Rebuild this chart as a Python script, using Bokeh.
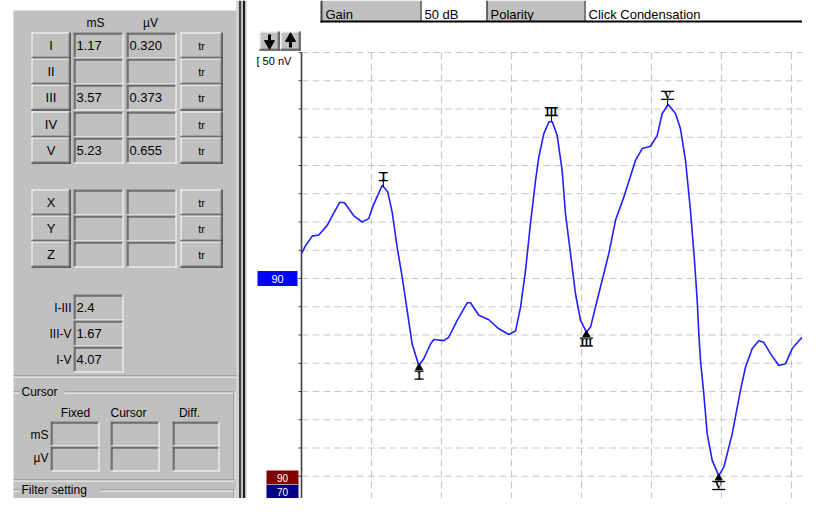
import numpy as np
from bokeh.plotting import figure
from bokeh.models import Range1d
from bokeh.core.properties import value
from bokeh.embed import file_html
from bokeh.resources import INLINE

# ---------------- data ----------------
time_ms = [0.000, 0.057, 0.153, 0.247, 0.367, 0.439, 0.547, 0.614, 0.747, 0.867,
           0.961, 1.024, 1.153, 1.233, 1.296, 1.367, 1.439, 1.510, 1.581, 1.676,
           1.747, 1.843, 1.890, 2.033, 2.104, 2.224, 2.367, 2.414, 2.533, 2.676,
           2.819, 2.961, 3.057, 3.129, 3.200, 3.271, 3.343, 3.390, 3.461, 3.533,
           3.581, 3.653, 3.724, 3.771, 3.843, 3.914, 3.986, 4.071, 4.129, 4.247,
           4.390, 4.486, 4.604, 4.771, 4.867, 4.986, 5.081, 5.153, 5.239, 5.343,
           5.414, 5.486, 5.557, 5.614, 5.653, 5.676, 5.700, 5.747, 5.796, 5.867,
           5.961, 6.033, 6.153, 6.271, 6.343, 6.439, 6.533, 6.604, 6.700, 6.819,
           6.914, 7.010, 7.129, 7.224, 7.357]
amp_uv = [0.044, 0.058, 0.075, 0.077, 0.094, 0.111, 0.135, 0.134, 0.111, 0.100,
          0.106, 0.129, 0.165, 0.153, 0.117, 0.055, 0.002, -0.057, -0.116, -0.154,
          -0.142, -0.116, -0.108, -0.110, -0.104, -0.074, -0.043, -0.043, -0.065, -0.073,
          -0.089, -0.099, -0.093, -0.051, 0.014, 0.097, 0.173, 0.215, 0.256, 0.277,
          0.278, 0.253, 0.191, 0.115, 0.044, -0.027, -0.074, -0.095, -0.086, -0.027,
          0.044, 0.103, 0.144, 0.209, 0.230, 0.234, 0.253, 0.292, 0.308, 0.292,
          0.265, 0.209, 0.120, 0.032, -0.039, -0.098, -0.145, -0.204, -0.275, -0.322,
          -0.349, -0.334, -0.275, -0.198, -0.157, -0.124, -0.110, -0.113, -0.133, -0.154,
          -0.151, -0.124, -0.107, -0.098, -0.074]

peak_names = ["I", "II", "III", "IV", "V"]
peak_lat_ms = ["1.17", "", "3.57", "", "5.23"]
peak_amp_uv = ["0.320", "", "0.373", "", "0.655"]
trough_lat_ms = [1.68, 4.07, 5.96]
extra_names = ["X", "Y", "Z"]
interpeak_names = ["I-III", "III-V", "I-V"]
interpeak_ms = ["2.4", "1.67", "4.07"]
cursor_cols = ["Fixed", "Cursor", "Diff."]
cursor_rows = ["mS", "µV"]
header_labels = ["Gain", "50 dB", "Polarity", "Click Condensation"]
trace_level = "90"
level_legend = ["90", "70"]
grid_ms = [1, 2, 3, 4, 5, 6, 7]
grid_uv = [round(-0.40 + 0.05 * k, 2) for k in range(17)]
scale_label = "[ 50 nV"

# ---------------- layout constants ----------------
BG = "#c0c0c0"
DARK = "#404040"
SHADOW = "#808080"
W, H = 802, 498
X0_PX, Y0_PX = 301, 278          # pixel position of t = 0 ms and of 0 µV
PX_PER_MS, PX_PER_UV = 70.0, 565.0
SANS = "Liberation Sans"

p = figure(width=W, height=H, output_backend="svg", toolbar_location=None,
           x_range=Range1d(-X0_PX / PX_PER_MS, (W - X0_PX) / PX_PER_MS),
           y_range=Range1d((Y0_PX - H) / PX_PER_UV, Y0_PX / PX_PER_UV),
           x_axis_location=None, y_axis_location=None, min_border=0,
           outline_line_color=None, background_fill_color="white",
           border_fill_color="white")
p.extra_x_ranges = {"px": Range1d(0, W)}
p.extra_y_ranges = {"py": Range1d(H, 0)}
p.grid.grid_line_color = None

Q = {"l": [], "r": [], "t": [], "b": [], "c": []}
S = {"x0": [], "y0": [], "x1": [], "y1": [], "c": [], "w": []}
T = {}


def quad(x0, y0, x1, y1, c):
    Q["l"].append(x0); Q["r"].append(x1); Q["t"].append(y0); Q["b"].append(y1); Q["c"].append(c)


def seg(x0, y0, x1, y1, c, w=1.0):
    S["x0"].append(x0); S["y0"].append(y0); S["x1"].append(x1); S["y1"].append(y1)
    S["c"].append(c); S["w"].append(w)


def txt(x, y, s, size="12px", align="left", color="black", font=SANS,
        baseline="middle", style="normal"):
    key = (size, align, color, font, baseline, style)
    d = T.setdefault(key, {"x": [], "y": [], "text": []})
    d["x"].append(x); d["y"].append(y); d["text"].append(s)


def raised(x0, y0, x1, y1):
    quad(x0, y0, x1, y1, BG)
    seg(x0, y0 + 0.5, x1 - 1, y0 + 0.5, "white")
    seg(x0 + 0.5, y0, x0 + 0.5, y1 - 1, "white")
    seg(x0, y1 - 0.5, x1, y1 - 0.5, "black")
    seg(x1 - 0.5, y0, x1 - 0.5, y1, "black")
    seg(x0 + 1, y1 - 1.5, x1 - 1, y1 - 1.5, SHADOW)
    seg(x1 - 1.5, y0 + 1, x1 - 1.5, y1 - 1, SHADOW)


def sunken(x0, y0, x1, y1):
    quad(x0, y0, x1, y1, BG)
    seg(x0, y0 + 0.5, x1, y0 + 0.5, SHADOW)
    seg(x0 + 0.5, y0, x0 + 0.5, y1, SHADOW)
    seg(x0 + 1, y0 + 1.5, x1 - 1, y0 + 1.5, DARK)
    seg(x0 + 1.5, y0 + 1, x0 + 1.5, y1 - 1, DARK)
    seg(x0, y1 - 0.5, x1, y1 - 0.5, "white")
    seg(x1 - 0.5, y0, x1 - 0.5, y1, "white")


def etched_h(x0, x1, y):
    seg(x0, y + 0.5, x1, y + 0.5, SHADOW)
    seg(x0, y + 1.5, x1, y + 1.5, "white")


def etched_v(x, y0, y1):
    seg(x + 0.5, y0, x + 0.5, y1, SHADOW)
    seg(x + 1.5, y0, x + 1.5, y1, "white")


# ---------------- left panel ----------------
quad(13, 10, 236, 520, BG)
quad(236, 0, 246, 520, BG)
seg(237.5, 0, 237.5, 520, "#e4e4e4")
seg(239.5, 0, 239.5, 520, DARK, 2)
seg(243.5, 0, 243.5, 520, "#202020", 2)

txt(95, 22, "mS", "12px", "center")
txt(150, 22, "µV", "12px", "center")

for i, (name, lat, amp) in enumerate(zip(peak_names, peak_lat_ms, peak_amp_uv)):
    y0 = round(32 + 26.25 * i)
    y1 = y0 + 26
    raised(31, y0, 70, y1)
    sunken(73, y0, 123, y1)
    sunken(126, y0, 176, y1)
    raised(180, y0, 222, y1)
    txt(50.5, y0 + 13, name, "13px", "center")
    txt(201, y0 + 13, "tr", "11px", "center")
    if lat:
        txt(76, y0 + 13, lat, "13px")
    if amp:
        txt(129, y0 + 13, amp, "13px")

for i, name in enumerate(extra_names):
    y0 = 189 + 26 * i
    y1 = y0 + 26
    raised(31, y0, 70, y1)
    sunken(73, y0, 123, y1)
    sunken(126, y0, 176, y1)
    raised(180, y0, 222, y1)
    txt(50.5, y0 + 13, name, "13px", "center")
    txt(201, y0 + 13, "tr", "11px", "center")

for i, (name, val) in enumerate(zip(interpeak_names, interpeak_ms)):
    y0 = 294 + 26 * i
    sunken(73, y0, 123, y0 + 26)
    txt(71, y0 + 13, name, "12px", "right")
    txt(76, y0 + 13, val, "13px")

etched_h(13, 236, 375)

# Cursor group
etched_h(13, 19, 391)
etched_h(64, 234, 391)
etched_v(233, 391, 479)
etched_h(13, 234, 479)
txt(21, 391.5, "Cursor", "12px")
col_x = [(50, 99), (110, 159), (172, 219)]
col_cx = [75, 128, 189]
for (x0, x1), cx, name in zip(col_x, col_cx, cursor_cols):
    txt(cx, 412, name, "12px", "center")
    sunken(x0, 421, x1, 446)
    sunken(x0, 446, x1, 471)
for j, name in enumerate(cursor_rows):
    txt(48, 434 + 23 * j, name, "12px", "right")

# Filter setting group
etched_h(13, 19, 489)
etched_h(100, 234, 489)
etched_v(233, 489, 520)
txt(21, 489.5, "Filter setting", "12px")

# ---------------- right side: header, buttons, labels ----------------
cells = [(321, 420, BG), (420, 486, "white"), (486, 584, BG), (584, 830, "white")]
for (x0, x1, c), lab in zip(cells, header_labels):
    quad(x0, 0, x1, 21, c)
    txt(x0 + 4, 14, lab, "13px", baseline="alphabetic")
for (x0, x1, c) in cells[1:]:
    seg(x0 + 0.5, 0, x0 + 0.5, 21, "black")
seg(321, 0, 321, 22, DARK, 2)
seg(320, 21, 830, 21, "black", 2)

raised(259, 31, 279, 50)
raised(280, 31, 300, 50)
seg(269, 34, 269, 41, "black", 3)
seg(290, 41, 290, 47, "black", 3)
txt(256, 60, scale_label, "11px")

quad(266, 470, 298, 484, "#800000")
quad(266, 484, 298, 498, "#000080")
seg(266, 484, 298, 484, "#a0a0a0", 1)
txt(282, 477.5, level_legend[0], "10px", "center", "white")
txt(282, 491.5, level_legend[1], "10px", "center", "white")

# draw UI pieces (pixel ranges)
p.quad(left=Q["l"], right=Q["r"], top=Q["t"], bottom=Q["b"], fill_color=Q["c"],
       line_color=None, x_range_name="px", y_range_name="py")
p.segment(x0=S["x0"], y0=S["y0"], x1=S["x1"], y1=S["y1"], line_color=S["c"],
          line_width=S["w"], x_range_name="px", y_range_name="py")
p.scatter(x=[269], y=[43], marker="inverted_triangle", size=10, fill_color="black",
          line_color="black", x_range_name="px", y_range_name="py")
p.scatter(x=[290], y=[38], marker="triangle", size=10, fill_color="black",
          line_color="black", x_range_name="px", y_range_name="py")
for (size, align, color, font, baseline, style), d in T.items():
    p.text(x=d["x"], y=d["y"], text=d["text"], text_font=value(font),
           text_font_size=size, text_align=align, text_color=color,
           text_baseline=baseline, text_font_style=style,
           x_range_name="px", y_range_name="py")

# ---------------- waveform area (data ranges) ----------------
y_top = max(grid_uv)
y_bot = p.y_range.start
x_end = p.x_range.end
grid_c = "#c8c8c8"
p.segment(x0=[0] * len(grid_uv), x1=[x_end] * len(grid_uv), y0=grid_uv, y1=grid_uv,
          line_color=grid_c, line_dash="7 4", line_width=1.2)
p.segment(x0=grid_ms, x1=grid_ms, y0=[y_top] * len(grid_ms), y1=[y_bot] * len(grid_ms),
          line_color=grid_c, line_dash="7 4", line_width=1.2)
p.segment(x0=[0], x1=[0], y0=[y_top], y1=[y_bot], line_color=DARK, line_width=1.6)
p.segment(x0=[298] * len(grid_uv), x1=[301] * len(grid_uv), y0=grid_uv, y1=grid_uv,
          line_color=DARK, line_width=1, x_range_name="px")

# level marker at the trace baseline
p.rect(x=[277], y=[0.0], width=40, height=15, height_units="screen",
       fill_color="#0000ff", line_color=None, x_range_name="px")
p.text(x=[277], y=[0.0], text=[trace_level], text_font=value(SANS),
       text_font_size="11px", text_align="center", text_baseline="middle",
       text_color="white", x_range_name="px")

# the trace
p.line(time_ms, amp_uv, line_color="#2020ff", line_width=1.6)

# peak / trough marks
pk_names = [n for n, v in zip(peak_names, peak_lat_ms) if v]
pk_t = np.array([float(v) for v in peak_lat_ms if v])
pk_v = np.interp(pk_t, time_ms, amp_uv)
tr_t = np.array(trough_lat_ms)
tr_v = np.interp(tr_t, time_ms, amp_uv)
half_w = np.array([{"I": 4.5, "III": 6.5, "V": 6.5}[n] for n in pk_names]) / PX_PER_MS
d = 1.0 / PX_PER_UV

p.segment(x0=pk_t, x1=pk_t, y0=pk_v, y1=pk_v + 6 * d, line_color="black", line_width=1)
for off in (6, 14):
    p.segment(x0=pk_t - half_w, x1=pk_t + half_w, y0=pk_v + off * d, y1=pk_v + off * d,
              line_color="black", line_width=1.3)
    p.segment(x0=tr_t - half_w, x1=tr_t + half_w, y0=tr_v - off * d, y1=tr_v - off * d,
              line_color="black", line_width=1.3)
p.text(x=pk_t, y=pk_v + 10 * d, text=pk_names, text_font=value("Liberation Serif"),
       text_font_size="10px", text_font_style="bold", text_align="center",
       text_baseline="middle", text_color="black")
p.text(x=tr_t, y=tr_v - 10 * d, text=pk_names, text_font=value("Liberation Serif"),
       text_font_size="10px", text_font_style="bold", text_align="center",
       text_baseline="middle", text_color="black")
p.scatter(x=tr_t, y=tr_v - 2.5 * d, marker="triangle", size=7, fill_color="black",
          line_color="black")

open("out.html", "w", encoding="utf-8").write(file_html(p, INLINE))
